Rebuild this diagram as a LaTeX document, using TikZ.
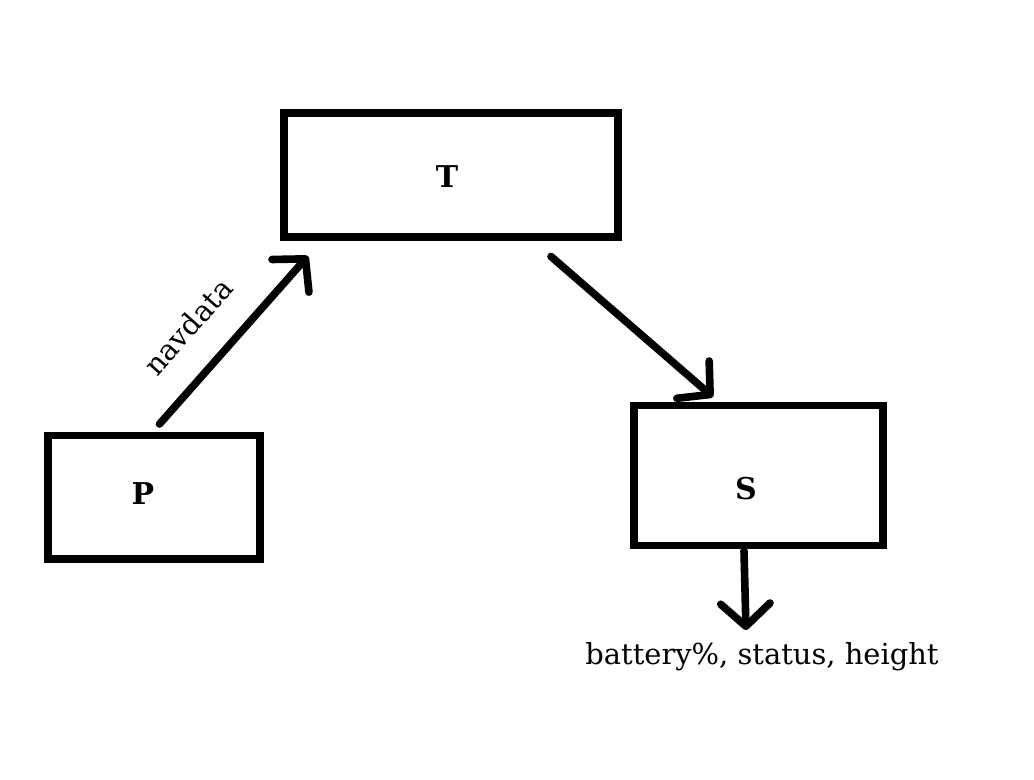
\documentclass[tikz,border=0pt]{standalone}
\usepackage{fontspec}
\setmainfont{DejaVu Serif}
\usetikzlibrary{arrows.meta,calc}

\begin{document}
\begin{tikzpicture}[x=0.75pt,y=-0.75pt,
	box/.style={draw,line width=5.7pt,inner sep=0pt},
	lbl/.style={font=\fontsize{22.5}{27}\selectfont\bfseries},
	txt/.style={font=\fontsize{21.7}{26}\selectfont},
	arrow/.style={line width=5.7pt,line cap=round,
		-{Straight Barb[length=17pt,width=37pt,round]}}]
	\useasboundingbox (0,0) rectangle (1034,779);

	\node[box,minimum width=250.5pt,minimum height=93pt,
		label={[lbl,xshift=-3pt,yshift=-1.1pt]center:T}] (T) at (451,175) {};
	\node[box,minimum width=159pt,minimum height=92.6pt,
		label={[lbl,xshift=-8.25pt,yshift=2.4pt]center:P}] (P) at (154,497.25) {};
	\node[box,minimum width=186.75pt,minimum height=105pt,
		label={[lbl,xshift=-9.4pt,yshift=-9.75pt]center:S}] (S) at (758.5,475.5) {};
	\node[txt] (info) at (762,657) {battery\%, status, height};

	\draw[arrow] ($(P.north)+(5.5,-7.7)$) -- node[txt,sloped,pos=0.41,above=18pt] {navdata} ($(T.south)+(-143,15.2)$);
	\draw[arrow] ($(T.south)+(100,15.7)$) -- ($(S.north)+(-45.5,-4.7)$);
	\draw[arrow] ($(S.south)+(-14.5,1.5)$) -- ($(info.north)+(-16,-8)$);
\end{tikzpicture}
\end{document}
